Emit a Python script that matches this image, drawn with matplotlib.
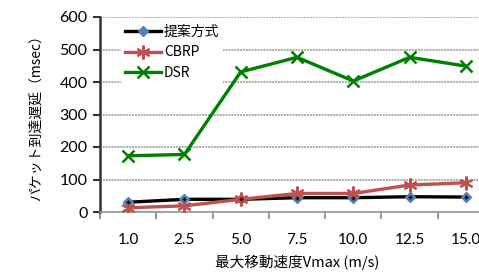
import matplotlib.pyplot as plt

speeds = ["1.0", "2.5", "5.0", "7.5", "10.0", "12.5", "15.0"]
proposed = [30, 39, 39, 44, 44, 47, 46]
cbrp = [13, 19, 39, 57, 57, 83, 90]
dsr = [173, 177, 431, 476, 403, 476, 449]

plt.rcParams["font.family"] = ["Lato", "Noto Sans CJK JP", "DejaVu Sans"]
jp = ["Noto Sans CJK JP", "DejaVu Sans"]

fig = plt.figure(figsize=(4.79, 2.78), dpi=100)
ax = fig.add_axes([100 / 479, 66 / 278, 394 / 479, 195 / 278])

x = range(len(speeds))
ax.plot(x, proposed, color="black", lw=2.4, marker="D", ms=5,
        mfc="#4F81BD", mec="#4F81BD", label="提案方式", zorder=3)
ax.plot(x, proposed, ls="none", marker="+", ms=3, mec="black", mew=1, zorder=4)
ax.plot(x, cbrp, color="#C0504D", lw=2.4, marker=(6, 2, 0), ms=10, mew=1.5,
        mec="#C0504D", label="CBRP", zorder=3)
ax.plot(x, dsr, color="#008000", lw=2.4, marker="x", ms=9, mew=1.8,
        mec="#008000", label="DSR", zorder=3)

ax.set_xlim(-0.5, len(speeds) - 0.5)
ax.set_ylim(0, 600)
ax.set_yticks(range(0, 601, 100))
ax.set_xticks(x)
ax.set_xticklabels(speeds)
ax.set_xticks([i - 0.5 for i in range(len(speeds) + 1)], minor=True)
ax.tick_params(axis="x", which="major", length=0, pad=15, labelsize=11)
ax.tick_params(axis="x", which="minor", length=5, width=1.2, color="#888888")
ax.tick_params(axis="y", length=5, width=1.5, color="#333333", labelsize=11.5, pad=4)

ax.grid(axis="y", color="#AAAAAA", lw=1.4, ls=(0, (1, 0.5)))
ax.set_axisbelow(True)
for s in ["top", "right"]:
    ax.spines[s].set_visible(False)
ax.spines["left"].set_color("#333333")
ax.spines["left"].set_linewidth(1.8)
ax.spines["bottom"].set_color("#999999")
ax.spines["bottom"].set_linewidth(1.2)

ax.set_ylabel("パケット到達遅延（msec）", fontsize=10, labelpad=12, family=jp)
ax.set_xlabel("最大移動速度Vmax (m/s)", fontsize=10.5, labelpad=6, family=jp)

leg = ax.legend(loc="upper left", bbox_to_anchor=(0.035, 1.015), frameon=True,
                prop={"family": jp, "size": 10}, handlelength=2.6,
                handletextpad=0.2, labelspacing=0.45, borderpad=0.3)
leg.get_frame().set_facecolor("white")
leg.get_frame().set_edgecolor("none")
leg.get_frame().set_alpha(1)

fig.savefig("out.png", dpi=100)
